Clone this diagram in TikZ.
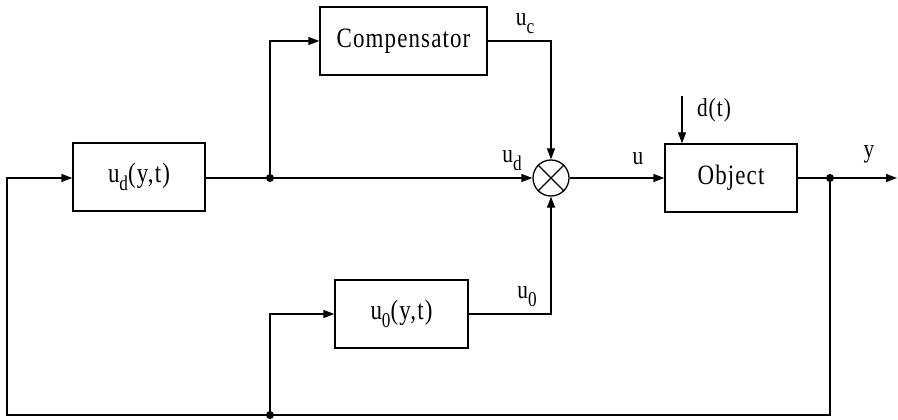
\documentclass[tikz,border=0pt]{standalone}
\usepackage{fontspec}
\setmainfont{Liberation Serif}[LetterSpace=4,FakeStretch=0.82]
\usetikzlibrary{arrows.meta}
\newcommand{\lowsub}[1]{\raisebox{-0.65ex}{\fontsize{21}{21}\selectfont #1}}
\begin{document}
\begin{tikzpicture}[x=1pt,y=-1pt,
  line width=1.3pt,
  >={Triangle[length=11pt,width=8pt]},
  blk/.style={draw,rectangle,minimum height=68pt,inner sep=0pt,font=\fontsize{28}{28}\selectfont},
  lbl/.style={font=\fontsize{26}{26}\selectfont,inner sep=0pt},
  dot/.style={circle,fill,inner sep=0pt,minimum size=8pt}]
\useasboundingbox[fill=white] (0,0) rectangle (898,420);
\node[blk,minimum width=167pt] (comp) at (403.5,41) {Compensator};
\node[blk,minimum width=132pt] (ud) at (139,177) {u\lowsub{d}(y,t)};
\node[blk,minimum width=132pt] (obj) at (731,178) {Object};
\node[blk,minimum width=133pt] (uo) at (401.5,314) {u\lowsub{0}(y,t)};
\node[draw,circle,minimum size=36pt,inner sep=0pt] (sum) at (551,178) {};
\draw (sum.north west) -- (sum.south east) (sum.north east) -- (sum.south west);
\node[dot] (j1) at (270,178) {};
\node[dot] (j2) at (830,178) {};
\node[dot] (j3) at (270,415) {};
\coordinate (out) at (897,178);
\coordinate (dtop) at (682,96);
\coordinate (br) at (830,415);
\coordinate (bl) at (7,415);
\coordinate (lt) at (7,178);
\draw[->] (ud.east |- sum.west) -- (sum.west);
\draw[->] (j1.center) |- (comp.west);
\draw[->] (comp.east) -| (sum.north);
\draw[->] (uo.east) -| (sum.south);
\draw[->] (sum.east) -- (obj.west);
\draw[->] (obj.east) -- (out);
\draw[->] (dtop) -- (dtop |- obj.north);
\draw[->] (j2.center) -- (br) -- (bl) -- (lt) -- (lt -| ud.west);
\draw[->] (j3.center) |- (uo.west);
\node[lbl] (luc) at (525,24) {u\lowsub{c}};
\node[lbl] (lud) at (512,161) {u\lowsub{d}};
\node[lbl] (lu) at (638,159) {u};
\node[lbl] (ld) at (714,110) {d(t)};
\node[lbl] (ly) at (869,154) {y};
\node[lbl] (luo) at (527,297) {u\lowsub{0}};
\end{tikzpicture}
\end{document}
